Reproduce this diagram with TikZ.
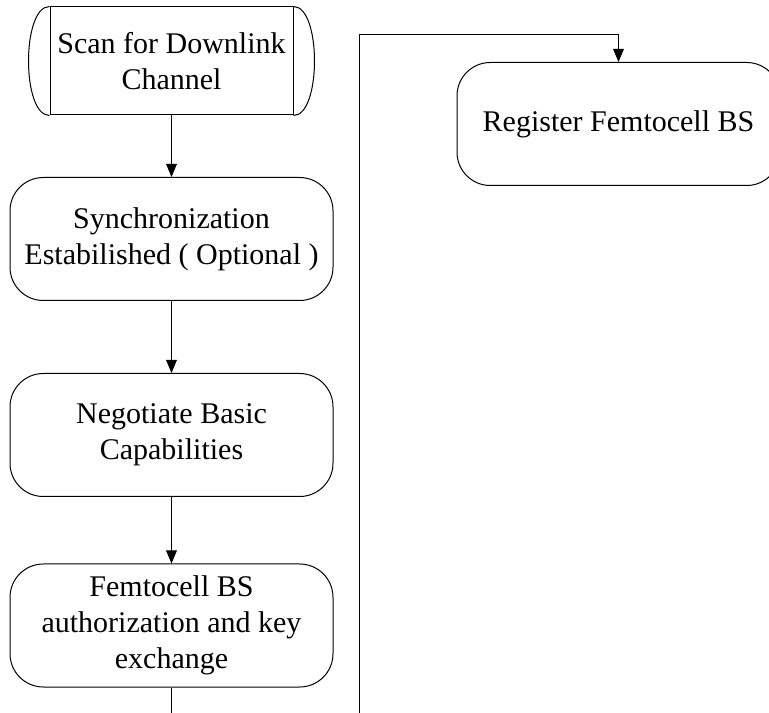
\documentclass[tikz,border=0pt]{standalone}
\usepackage{fontspec}
\setmainfont{Liberation Serif}
\usetikzlibrary{arrows.meta}
\tikzset{
  stepbox/.style={draw, line width=0.75pt, rounded corners=25pt, align=center,
    minimum width=323*0.75pt, minimum height=123*0.75pt, inner sep=0pt,
    font=\fontsize{22.5}{27}\selectfont},
  scanbox/.style={draw, line width=0.75pt, align=center,
    minimum width=243*0.75pt, minimum height=108*0.75pt, inner sep=0pt,
    font=\fontsize{22.5}{27}\selectfont},
  flow/.style={line width=0.75pt}
}

\begin{document}
\begin{tikzpicture}[x=0.75pt,y=-0.75pt,
% filled arrow heads for the flow lines
>={Triangle[length=9.75pt,width=8pt]}]
\useasboundingbox (0,0) rectangle (769,713);
\clip (0,0) rectangle (769,713);

\node[scanbox] (scan) at (171.5,61) {Scan for Downlink\\Channel};
\draw[flow] (scan.north west) .. controls +(-28,0) and +(-28,0) .. (scan.south west);
\draw[flow] (scan.north east) .. controls +(28,0) and +(28,0) .. (scan.south east);

\node[stepbox] (sync) at (171.5,239) {Synchronization\\Estabilished ( Optional )};
\node[stepbox] (nego) at (171.5,435) {Negotiate Basic\\Capabilities};
\node[stepbox] (auth) at (171.5,625.5) {Femtocell BS\\authorization and key\\exchange};
\node[stepbox] (reg) at (618.5,124) {Register Femtocell BS};

\coordinate (authout) at (171.5,713);
\coordinate (regin) at (359,713);

\draw[flow,->] (scan) -- (sync);
\draw[flow,->] (sync) -- (nego);
\draw[flow,->] (nego) -- (auth);
\draw[flow] (auth) -- (authout);
\draw[flow,->] (regin) -- (359,35) -| (reg.north);
\end{tikzpicture}
\end{document}
